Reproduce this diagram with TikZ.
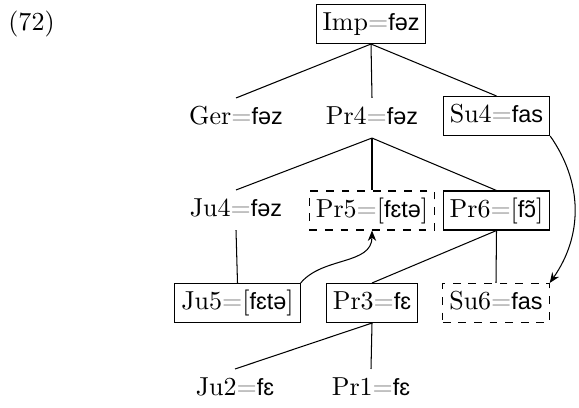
\documentclass[tikz,border=0pt]{standalone}
\usepackage{fontspec}
\newfontfamily\ipafont[Scale=0.9]{Liberation Sans}
\newcommand{\ph}[1]{{\ipafont #1}}
\newcommand{\eqs}{\textcolor{black!45}{=}}
\usepackage{tikz}
\usetikzlibrary{arrows.meta}

\begin{document}
\begin{tikzpicture}[
            x=0.3846pt, y=-0.3846pt,
            >={Stealth[length=4pt, width=3.2pt]},
            form/.style={inner sep=2.5pt, text height=7.5pt, text depth=2.5pt},
            boxed/.style={form, draw, line width=0.4pt},
            dashbox/.style={form, draw, dashed, line width=0.4pt},
            branch/.style={line width=0.4pt},
            move/.style={->, line width=0.4pt},
        ]
        \useasboundingbox (0,0) rectangle (579,407);

        \node[form] (ex) at (31.5,24) {(72)};

        % levels of the tree
        \node[boxed] (imp) at (371,24) {Imp\eqs\ph{fəz}};

        \node[form] (ger) at (236,118) {Ger\eqs\ph{fəz}};
        \node[form] (pr4) at (372,118) {Pr4\eqs\ph{fəz}};
        \node[boxed] (su4) at (496.5,116) {Su4\eqs\ph{fas}};

        \node[form] (ju4) at (236,210) {Ju4\eqs\ph{fəz}};
        \node[dashbox] (pr5) at (372,210.5) {Pr5\eqs[\ph{fɛtə}]};
        \node[boxed] (pr6) at (496.5,210.5) {Pr6\eqs[\ph{fɔ̃}]};

        \node[boxed] (ju5) at (237.5,303) {Ju5\eqs[\ph{fɛtə}]};
        \node[boxed] (pr3) at (372,303) {Pr3\eqs\ph{fɛ}};
        \node[dashbox] (su6) at (496,303) {Su6\eqs\ph{fas}};

        \node[form] (ju2) at (235,389) {Ju2\eqs\ph{fɛ}};
        \node[form] (pr1) at (371,389) {Pr1\eqs\ph{fɛ}};

        % branches
        \foreach \kid in {ger, pr4, su4}
            \draw[branch] (imp.south) -- (\kid.north);
        \foreach \kid in {ju4, pr5, pr6}
            \draw[branch] (pr4.south) -- (\kid.north);
        \draw[branch] (ju4.south) -- (ju5.north);
        \draw[branch] (pr6.south) -- (pr3.north);
        \draw[branch] (pr6.south) -- (su6.north);
        \draw[branch] (pr3.south) -- (ju2.north);
        \draw[branch] (pr3.south) -- (pr1.north);

        % movements
        \draw[move] (ju5.north east) to[out=50, in=-90] (pr5.south);
        \draw[move] (su4.south east) to[out=-55, in=55] (su6.north east);
        \end{tikzpicture}
\end{document}
